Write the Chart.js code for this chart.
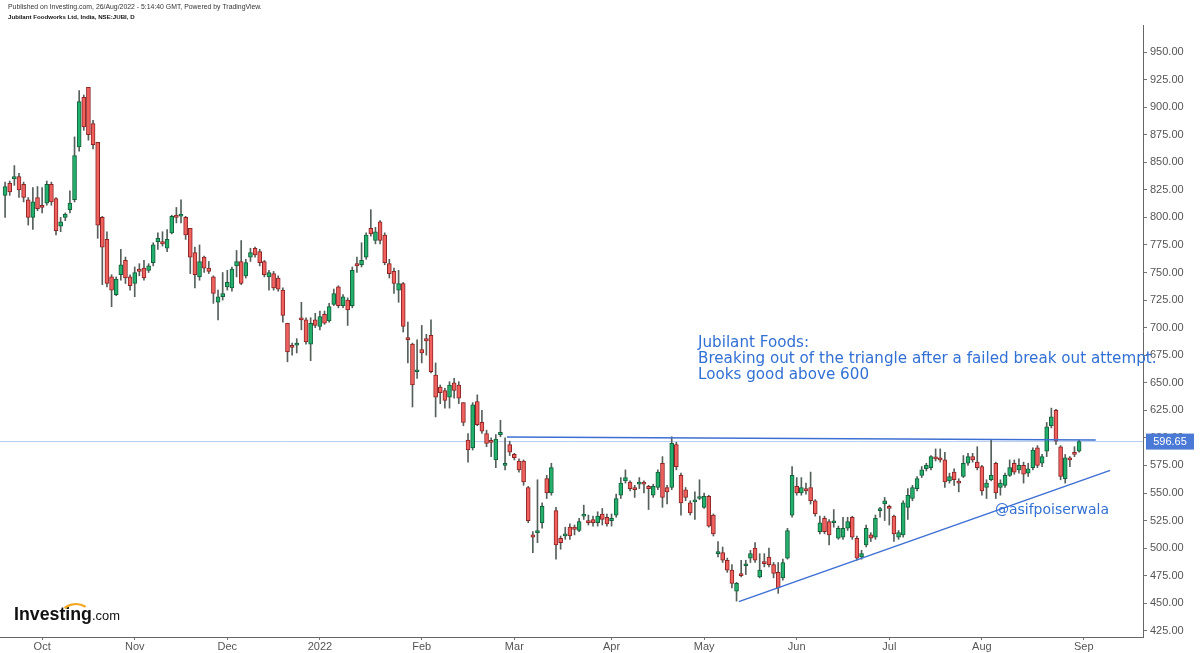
<!DOCTYPE html>
<html><head><meta charset="utf-8">
<script src="https://cdn.jsdelivr.net/npm/chart.js@4.4.1/dist/chart.umd.min.js"></script>
<style>html,body{margin:0;padding:0;background:#fff;overflow:hidden}canvas{display:block}</style>
</head><body>
<canvas id="c" width="1200" height="653"></canvas>
<script>
// ---- Daily OHLC, JUBI (bar index 0 = first candle, late Sep 2021) ----
const openP = [
820,831,835,837,830,816,800,818,811,813,830,817,792,800,807,816,864,909,918,885,868,
800,780,746,730,748,761,746,740,753,754,752,759,778,778,772,786,802,801,800,790,
768,746,764,754,746,723,728,737,736,756,760,747,764,772,769,760,746,749,745,734,704,
684,684,709,707,685,707,701,712,706,721,737,720,725,720,758,757,764,790,779,796,784,
758,751,734,740,691,685,660,680,690,693,657,646,643,637,650,648,632,598,591,633,
614,604,597,580,603,575,594,585,579,579,555,512,514,523,563,550,534,509,511,519,
519,516,529,525,526,523,531,528,525,530,548,561,560,555,558,559,556,548,555,577,
555,555,594,566,553,541,542,545,537,547,530,495,496,489,480,461,477,484,491,500,474,
487,492,485,478,473,491,530,556,550,554,555,543,515,527,524,523,509,510,518,528,509,
492,503,512,510,534,540,538,529,510,512,537,545,554,566,572,573,582,581,580,561,
569,560,565,577,583,578,574,555,562,577,555,557,566,577,571,575,568,573,591,577,588,
611,625,592,563,581,586,588];
const highP = [
832,833,847,840,832,818,827,828,827,833,832,818,800,804,824,873,915,911,918,888,868,
801,787,748,746,771,764,748,755,758,761,758,777,786,787,789,802,809,816,801,790,
773,775,765,760,747,734,750,752,755,770,779,762,772,773,771,761,752,751,747,736,704,
686,690,723,709,709,713,715,715,722,735,738,730,727,755,764,777,786,807,791,797,786,
762,754,752,741,705,686,689,702,694,707,668,648,645,651,654,651,632,604,632,639,
625,607,600,603,616,600,597,586,581,580,556,515,562,541,566,577,537,511,519,522,
521,527,539,530,529,533,536,531,531,549,564,571,561,557,564,561,557,558,571,583,
557,601,596,568,555,543,551,562,550,548,531,506,501,491,485,469,489,489,498,505,495,
495,500,487,487,490,518,574,564,564,559,569,544,529,529,526,535,520,528,528,529,511,
498,521,514,530,537,546,539,530,516,543,554,557,565,574,577,584,590,590,587,568,
572,563,584,586,586,592,575,562,598,578,562,568,580,580,581,578,577,591,593,585,614,
627,626,593,585,583,592,598];
const lowP = [
800,820,829,818,814,793,789,806,804,811,811,784,787,797,804,814,860,879,870,862,781,
739,737,719,729,743,740,734,728,747,743,750,756,771,774,769,785,795,795,780,749,
736,743,750,749,722,707,725,734,733,746,739,745,760,764,756,746,734,734,733,705,669,
675,677,698,685,670,700,698,703,705,720,718,718,702,718,750,755,762,783,776,776,757,
745,731,723,696,668,628,654,668,675,659,619,631,627,627,636,631,611,578,589,611,
604,592,583,573,601,571,584,580,569,557,523,496,505,518,545,548,490,499,508,508,
512,515,526,521,520,520,521,520,520,528,545,559,552,546,554,550,535,546,553,537,
540,553,571,530,543,530,526,544,536,519,511,492,487,478,464,452,474,476,487,487,473,
483,483,473,459,471,490,528,548,548,549,540,529,513,513,503,519,508,508,516,508,489,
490,501,506,508,528,525,521,506,508,510,526,543,552,564,570,571,579,578,555,559,
557,551,564,575,578,571,548,545,561,545,548,555,565,567,568,559,565,571,573,574,583,
609,594,562,559,574,583,587];
const closeP = [
828,823,837,825,818,800,814,808,809,830,814,788,796,803,813,856,905,882,875,866,793,
773,740,734,744,757,745,738,750,751,745,756,775,781,776,780,801,800,803,784,764,
748,760,754,751,731,728,731,741,753,760,740,759,768,766,759,748,750,736,735,711,678,
682,686,707,687,704,702,710,704,719,731,720,728,716,752,756,761,784,785,787,779,759,
749,740,740,701,689,648,661,677,688,660,637,641,634,648,643,636,614,589,630,612,
606,595,596,599,605,577,587,582,571,560,525,510,516,538,550,573,503,505,513,511,
517,524,530,523,523,529,526,522,527,545,559,564,554,553,559,558,554,556,569,546,
551,595,574,541,546,532,543,546,547,520,513,496,489,480,468,468,475,485,495,489,480,
486,485,477,464,487,516,566,550,555,552,543,531,523,515,512,524,518,518,524,510,491,
495,518,509,527,535,543,536,513,514,541,548,555,563,571,575,583,581,580,560,565,
562,559,577,583,580,573,552,559,566,550,559,566,573,569,575,567,572,589,575,583,610,
619,597,565,582,580,585,596.65];

// month ticks (bar index of first bar shown for each month)
const monthTickIdx    = [8, 28, 48, 68, 90, 110, 131, 151, 171, 191, 211, 233];
const monthTickLabels = ['Oct','Nov','Dec','2022','Feb','Mar','Apr','May','Jun','Jul','Aug','Sep'];
// price axis ticks
const priceTicks = [425,450,475,500,525,550,575,600,625,650,675,700,725,750,775,800,825,850,875,900,925,950];

// drawn lines (bar index, price)
const resistanceX = [108.4, 235.6];
const resistanceY = [600.7, 598.0];
const trendX = [158.5, 238.7];
const trendY = [451.5, 570.5];

const X_MIN = -1.1, X_MAX = 245.8, Y_MIN = 419.4, Y_MAX = 974.5;
const lastClose = closeP[closeP.length - 1];

const UP_FILL = '#22b06c', UP_EDGE = '#13613b';
const DN_FILL = '#f0615e', DN_EDGE = '#8c2424';
const WICK = '#56605a';
const LINE_BLUE = '#3d6fd3';
const TEXT_BLUE = '#3270d4';

const idx = openP.map((_, i) => i);
const isUp = i => closeP[i] >= openP[i];

function fitSize(ctx, text, weight, family, targetW) {
  ctx.font = weight + ' 20px ' + family;
  const w = ctx.measureText(text).width;
  return 20 * targetW / w;
}

const overlay = {
  id: 'overlay',
  beforeDraw(chart) {
    const ctx = chart.ctx;
    ctx.save(); ctx.fillStyle = '#fff'; ctx.fillRect(0, 0, chart.width, chart.height); ctx.restore();
  },
  afterDraw(chart) {
    const ctx = chart.ctx;
    const ys = chart.scales.y;
    ctx.save();
    ctx.textBaseline = 'middle';
    ctx.textAlign = 'left';
    // header
    let fam = '"Liberation Sans", Arial, sans-serif';
    let t1 = 'Published on Investing.com, 26/Aug/2022 - 5:14:40 GMT, Powered by TradingView.';
    let s1 = fitSize(ctx, t1, 'normal', fam, 254);
    ctx.font = 'normal ' + s1 + 'px ' + fam; ctx.fillStyle = '#333';
    ctx.fillText(t1, 8, 7);
    let t2 = 'Jubilant Foodworks Ltd, India, NSE:JUBI, D';
    let s2 = fitSize(ctx, t2, 'bold', fam, 127);
    ctx.font = 'bold ' + s2 + 'px ' + fam; ctx.fillStyle = '#111';
    ctx.fillText(t2, 8, 17);

    // annotation
    const afam = '"DejaVu Sans", Verdana, sans-serif';
    const lines = ['Jubilant Foods:', 'Breaking out of the triangle after a failed break out attempt.', 'Looks good above 600'];
    const as = fitSize(ctx, lines[1], 'normal', afam, 459);
    ctx.font = 'normal ' + as + 'px ' + afam; ctx.fillStyle = TEXT_BLUE;
    ctx.fillText(lines[0], 698, 343);
    ctx.fillText(lines[1], 698, 359);
    ctx.fillText(lines[2], 698, 375);
    const hs = fitSize(ctx, '@asifpoiserwala', 'normal', afam, 114);
    ctx.font = 'normal ' + hs + 'px ' + afam;
    ctx.fillText('@asifpoiserwala', 995, 510);

    // price label on axis
    const py = ys.getPixelForValue(lastClose);
    ctx.fillStyle = '#4a79d6';
    ctx.fillRect(1146, py - 8, 48, 16);
    ctx.fillStyle = '#fff';
    ctx.font = '11px "Liberation Sans", Arial, sans-serif';
    ctx.textAlign = 'center';
    ctx.fillText(lastClose.toFixed(2), 1170, py + 0.5);

    // Investing.com logo
    ctx.textAlign = 'left';
    ctx.textBaseline = 'alphabetic';
    const lfam = '"Liberation Sans", Arial, sans-serif';
    const ls = fitSize(ctx, 'Investing', 'bold', lfam, 78);
    ctx.font = 'bold ' + ls + 'px ' + lfam; ctx.fillStyle = '#111';
    ctx.fillText('Investing', 14, 620);
    const cs = fitSize(ctx, '.com', 'normal', lfam, 28);
    ctx.font = 'normal ' + cs + 'px ' + lfam;
    ctx.fillText('.com', 92, 620);
    ctx.strokeStyle = '#f5a623'; ctx.lineWidth = 2.2;
    ctx.beginPath();
    ctx.arc(76, 622, 18, -Math.PI * 0.72, -Math.PI * 0.32);
    ctx.stroke();
    ctx.restore();
  }
};

new Chart(document.getElementById('c'), {
  type: 'bar',
  data: {
    datasets: [
      {
        type: 'line', label: 'last', order: 10,
        data: [{x: X_MIN, y: lastClose}, {x: X_MAX, y: lastClose}],
        borderColor: '#b4cdef', borderWidth: 1, pointRadius: 0
      },
      {
        type: 'bar', label: 'wick', order: 5, grouped: false,
        data: idx.map(i => ({x: i, y: [lowP[i], highP[i]]})),
        backgroundColor: WICK, barThickness: 1
      },
      {
        type: 'bar', label: 'body', order: 4, grouped: false,
        data: idx.map(i => ({x: i, y: [openP[i], closeP[i]]})),
        backgroundColor: idx.map(i => isUp(i) ? UP_FILL : DN_FILL),
        borderColor: idx.map(i => isUp(i) ? UP_EDGE : DN_EDGE),
        borderWidth: 1, borderSkipped: false, barThickness: 4, minBarLength: 2
      },
      {
        type: 'line', label: 'resistance', order: 1,
        data: resistanceX.map((x, k) => ({x, y: resistanceY[k]})),
        borderColor: LINE_BLUE, borderWidth: 1.5, pointRadius: 0
      },
      {
        type: 'line', label: 'trend', order: 1,
        data: trendX.map((x, k) => ({x, y: trendY[k]})),
        borderColor: LINE_BLUE, borderWidth: 1.5, pointRadius: 0
      }
    ]
  },
  options: {
    responsive: false, animation: false, events: [],
    layout: {padding: {top: 25, left: 0, right: 0, bottom: 0}},
    plugins: {legend: {display: false}, tooltip: {enabled: false}, title: {display: false}},
    scales: {
      x: {
        type: 'linear', min: X_MIN, max: X_MAX, offset: false,
        grid: {display: true, offset: false, drawOnChartArea: false, drawTicks: true, tickLength: 3, color: '#777'},
        border: {display: true, color: '#666', width: 1},
        ticks: {
          font: {family: '"Liberation Sans", Arial, sans-serif', size: 11}, color: '#555',
          padding: 0, maxRotation: 0, autoSkip: false,
          callback: v => { const k = monthTickIdx.indexOf(v); return k >= 0 ? monthTickLabels[k] : ''; }
        },
        afterBuildTicks: a => { a.ticks = monthTickIdx.map(v => ({value: v})); },
        afterFit: s => { s.height = 16; s.paddingLeft = 0; s.paddingRight = 0; }
      },
      y: {
        type: 'linear', position: 'right', min: Y_MIN, max: Y_MAX,
        grid: {display: true, offset: false, drawOnChartArea: false, drawTicks: true, tickLength: 4, color: '#777'},
        border: {display: true, color: '#666', width: 1},
        ticks: {
          font: {family: '"Liberation Sans", Arial, sans-serif', size: 11}, color: '#555',
          padding: 3, callback: v => Number(v).toFixed(2)
        },
        afterBuildTicks: a => { a.ticks = priceTicks.map(v => ({value: v})); },
        afterFit: s => { s.width = 57; s.paddingTop = 0; s.paddingBottom = 0; }
      }
    }
  },
  plugins: [overlay]
});
</script>
</body></html>
